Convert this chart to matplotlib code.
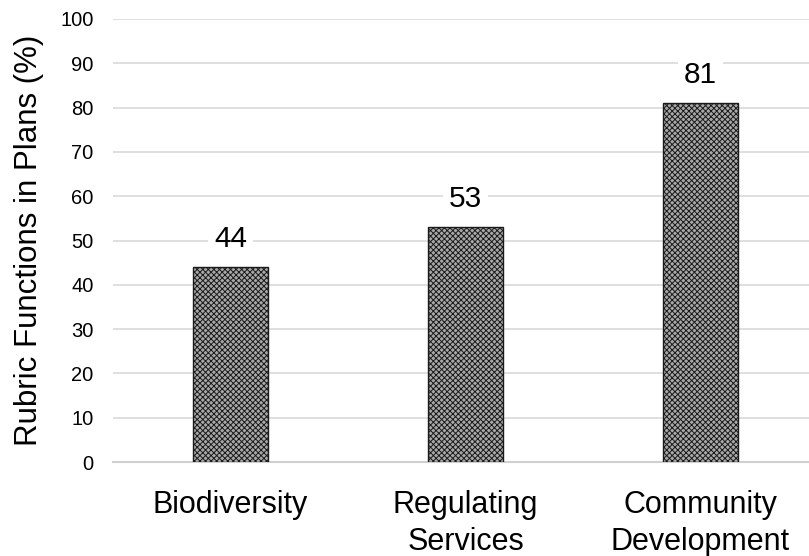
import numpy as np
import matplotlib.pyplot as plt

# %% podaci

kategorije = ['Biodiversity', 'Regulating\nServices', 'Community\nDevelopment']
vrednosti = [44, 53, 81]
y_ticks = [0, 10, 20, 30, 40, 50, 60, 70, 80, 90, 100]

# %% grafik

plt.rcParams['font.family'] = ['Liberation Sans', 'DejaVu Sans']
plt.rcParams['hatch.color'] = '#333333'
plt.rcParams['hatch.linewidth'] = 0.7

fig = plt.figure(figsize=(8.09, 5.56), dpi=100)
ax = fig.add_axes([113 / 809, 94 / 556, 705 / 809, 443 / 556])

x = np.arange(len(kategorije))
bars = ax.bar(x, vrednosti, width=0.32, color='#a8a8a8', edgecolor='#1a1a1a',
              linewidth=1.0, hatch='xxxxxx', zorder=3)

for xi, v in zip(x, vrednosti):
    ax.annotate(f'{v}', xy=(xi, v), xytext=(0, 10), textcoords='offset points',
                ha='center', va='bottom', fontsize=21.5, color='black', zorder=4,
                bbox=dict(facecolor='white', edgecolor='none', pad=4))

ax.set_xlim(-0.5, 2.5)
ax.set_ylim(0, 100)
ax.set_yticks(y_ticks)
ax.set_xticks(x)
ax.set_xticklabels(kategorije, fontsize=22, linespacing=1.3)
ax.tick_params(axis='y', labelsize=14.5, length=0, pad=14)
ax.tick_params(axis='x', length=0, pad=20)

ax.yaxis.grid(True, color='#d9d9d9', linewidth=1.2, zorder=0)
ax.set_axisbelow(True)
for s in ['top', 'right', 'left']:
    ax.spines[s].set_visible(False)
ax.spines['bottom'].set_color('#d0d0d0')
ax.spines['bottom'].set_linewidth(1.5)

ax.set_ylabel('Rubric Functions in Plans (%)', fontsize=22.5, labelpad=12)

fig.savefig('out.png', dpi=100)
